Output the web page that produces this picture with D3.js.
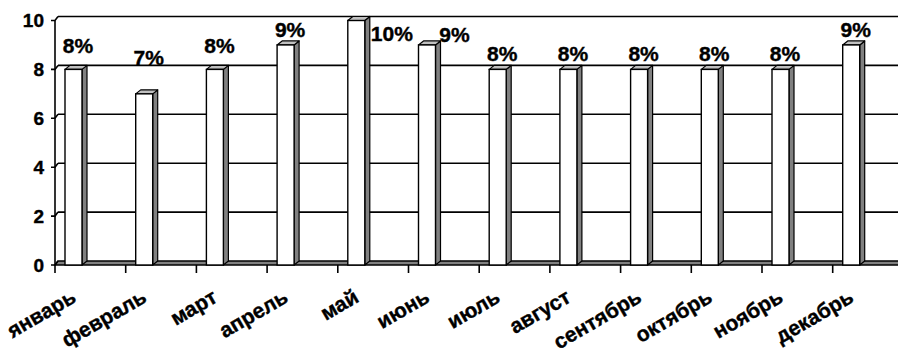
<!DOCTYPE html>
<html>
<head>
<meta charset="utf-8">
<script src="https://cdn.jsdelivr.net/npm/d3@7"></script>
<style>
  html, body { margin: 0; padding: 0; background: #fff; }
  svg { display: block; }
  text { font-family: "Liberation Sans", Arial, sans-serif; font-weight: bold; fill: #000;
         stroke: #000; stroke-width: 0.4px; }
</style>
</head>
<body>
<svg id="chart" width="898" height="351"></svg>
<script>
// Monthly share, percent
const months = ["январь", "февраль", "март", "апрель", "май", "июнь",
                "июль", "август", "сентябрь", "октябрь", "ноябрь", "декабрь"];
const shares = [8, 7, 8, 9, 10, 9, 8, 8, 8, 8, 8, 9];
const yTicks = [0, 2, 4, 6, 8, 10];

// Layout of the oblique 3-D projection
const W = 898, H = 351;
const left = 55, bandW = 70.7;
const depthX = 3, depthY = 4;        // wall / floor depth
const barOff = 10, barW = 17;        // bar front face inside its band
const sideX = 5, sideY = 4;          // bar side / top depth
// label nudges [dx, dy] for the value labels that do not sit right above the bar
const labelNudge = [[0, -8], [0, -21], [0, -8], [0, 0], [31, 28], [23, 5],
                    [0, 0], [0, 0], [0, 0], [0, 0], [0, 0], [0, 0]];

const svg = d3.select("#chart");

const x = d3.scaleBand().domain(months).range([left, left + bandW * months.length]);
const y = d3.scaleLinear().domain([0, 10]).range([265, 20.5]);

// back wall gridlines
const grid = svg.append("g");
grid.selectAll("line.grid").data(yTicks.filter(t => t > 0)).join("line")
  .attr("x1", left + depthX).attr("x2", W)
  .attr("y1", d => y(d) - depthY).attr("y2", d => y(d) - depthY)
  .attr("stroke", "#000").attr("stroke-width", 1.6);

// floor
const y0 = y(0);
svg.append("path")
  .attr("d", `M${left},${y0} L${left + depthX},${y0 - depthY} L${W + 2},${y0 - depthY} L${W + 2},${y0} Z`)
  .attr("fill", "#808080").attr("stroke", "#000").attr("stroke-width", 1.4);

// vertical axis
const yAxis = svg.append("g");
yAxis.append("line")
  .attr("x1", left).attr("x2", left)
  .attr("y1", y(10)).attr("y2", y0 + 8)
  .attr("stroke", "#000").attr("stroke-width", 1.6);
yAxis.selectAll("path.tick").data(yTicks).join("path")
  .attr("d", d => `M${left - 4},${y(d)} L${left},${y(d)} L${left + depthX},${y(d) - depthY}`)
  .attr("fill", "none").attr("stroke", "#000").attr("stroke-width", 1.6);
yAxis.selectAll("text").data(yTicks).join("text")
  .attr("x", left - 11).attr("y", d => y(d))
  .attr("dy", "0.36em")
  .attr("text-anchor", "end")
  .attr("font-size", 19)
  .text(d => d);

// horizontal axis ticks on the front edge
svg.selectAll("line.xtick").data(months.slice(1).concat(["end"])).join("line")
  .attr("x1", (d, i) => left + bandW * (i + 1)).attr("x2", (d, i) => left + bandW * (i + 1))
  .attr("y1", y0).attr("y2", y0 + 8)
  .attr("stroke", "#000").attr("stroke-width", 1.6);

// columns
const bars = svg.append("g").selectAll("g").data(months).join("g");
bars.each(function (m, i) {
  const g = d3.select(this);
  const x0 = x(m) + barOff, x1 = x0 + barW, yt = y(shares[i]);
  // side face
  g.append("path")
    .attr("d", `M${x1},${y0} L${x1},${yt} L${x1 + sideX},${yt - sideY} L${x1 + sideX},${y0 - sideY} Z`)
    .attr("fill", "#808080").attr("stroke", "#000").attr("stroke-width", 1.2).attr("stroke-linejoin", "round");
  // top face
  g.append("path")
    .attr("d", `M${x0},${yt} L${x0 + sideX},${yt - sideY} L${x1 + sideX},${yt - sideY} L${x1},${yt} Z`)
    .attr("fill", "#c0c0c0").attr("stroke", "#000").attr("stroke-width", 1.2).attr("stroke-linejoin", "round");
  // front face
  g.append("rect")
    .attr("x", x0).attr("y", yt).attr("width", barW).attr("height", y0 - yt)
    .attr("fill", "#fff").attr("stroke", "#000").attr("stroke-width", 1.4);
});

// value labels
svg.append("g").selectAll("text").data(months).join("text")
  .attr("x", (m, i) => x(m) + barOff + (barW + sideX) / 2 + 2 + labelNudge[i][0])
  .attr("y", (m, i) => y(shares[i]) - 8 + labelNudge[i][1])
  .attr("text-anchor", "middle")
  .attr("font-size", 21)
  .text((m, i) => d3.format(".0f")(shares[i]) + "%");

// category labels
svg.append("g").selectAll("text").data(months).join("text")
  .attr("transform", m => `translate(${x(m) + bandW / 2 - 13},${y0 + 36}) rotate(-30)`)
  .attr("text-anchor", "end")
  .attr("font-size", 21)
  .text(m => m);
</script>
</body>
</html>
